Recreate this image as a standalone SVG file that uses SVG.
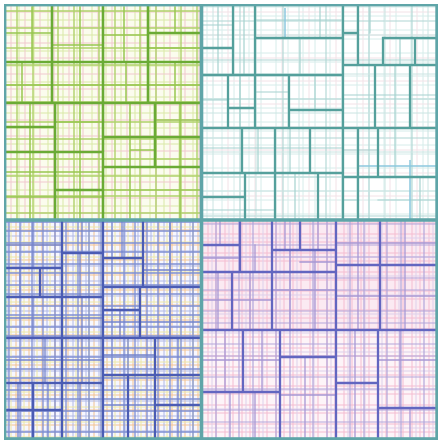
<svg xmlns="http://www.w3.org/2000/svg" width="441" height="444" viewBox="0 0 441 444">
<style>
.t{fill:none;stroke-linecap:square}
.tl2{stroke:#6aab36;stroke-width:2.6}
.tl3{stroke:#98c650;stroke-width:1.5}
.tr2{stroke:#55a09c;stroke-width:2.3}
.tr3{stroke:#a6d2cf;stroke-width:1.2}
.bl2{stroke:#4c5bb4;stroke-width:2.3}
.bl3{stroke:#7484cc;stroke-width:1.3}
.br2{stroke:#6266c0;stroke-width:2.3}
.br3{stroke:#a898d4;stroke-width:1.3}
.frame{stroke:#5ea5a8}
</style>
<defs>
<filter id="soft" x="0" y="0" width="1" height="1">
<feGaussianBlur stdDeviation="0.45"/>
</filter>
<pattern id="pTLf" width="29" height="31" patternUnits="userSpaceOnUse">
<path d="M5 0V31M19 0V31M0 4H29M0 20H29" stroke="#d9e8a6" stroke-width="1"/>
<path d="M11 0V31M25 0V31M0 12H29M0 27H29" stroke="#f0c8ce" stroke-width="1"/>
</pattern>
<pattern id="pTLm" width="41" height="37" patternUnits="userSpaceOnUse" x="3" y="2">
<path d="M14 0V37M30 0V37M0 9H41M0 26H41" stroke="#afd26a" stroke-width="1.4"/>
</pattern>
<pattern id="pTRf" width="27" height="23" patternUnits="userSpaceOnUse">
<path d="M6 0V23M18 0V23M0 7H27M0 16H27" stroke="#d6ecea" stroke-width="1"/>
<path d="M12 0V23M0 12H27" stroke="#f2e2e7" stroke-width="1"/>
</pattern>
<pattern id="pTRm" width="43" height="39" patternUnits="userSpaceOnUse" x="5" y="3">
<path d="M20 0V39M0 18H43" stroke="#afd6d3" stroke-width="1.1"/>
<path d="M36 0V39M0 32H43" stroke="#cae4e2" stroke-width="1"/>
</pattern>
<pattern id="pBLf" width="13" height="15" patternUnits="userSpaceOnUse">
<path d="M3 0V15M0 5H13" stroke="#f3c290" stroke-width="1"/>
<path d="M8 0V15M0 11H13" stroke="#b0b9e6" stroke-width="1"/>
<path d="M11 0V15M0 2H13" stroke="#ece8a6" stroke-width="1"/>
</pattern>
<pattern id="pBLm" width="23" height="21" patternUnits="userSpaceOnUse" x="2" y="4">
<path d="M7 0V21M18 0V21M0 8H23M0 17H23" stroke="#7f8fd2" stroke-width="1.3"/>
</pattern>
<pattern id="pBRf" width="17" height="19" patternUnits="userSpaceOnUse">
<path d="M4 0V19M12 0V19M0 6H17M0 14H17" stroke="#f4bcd0" stroke-width="1"/>
<path d="M8 0V19M0 10H17" stroke="#ddd0ea" stroke-width="1"/>
</pattern>
<pattern id="pBRm" width="37" height="33" patternUnits="userSpaceOnUse" x="4" y="2">
<path d="M13 0V33M27 0V33M0 12H37M0 24H37" stroke="#b3a6da" stroke-width="1.2"/>
</pattern>
</defs>
<rect width="441" height="444" fill="#ffffff"/>

<g filter="url(#soft)">
<g id="q-tl">
<rect x="6" y="6" width="196" height="214" fill="#fbfcee"/>
<rect x="6" y="6" width="196" height="214" fill="url(#pTLf)"/>
<rect x="6" y="6" width="196" height="214" fill="url(#pTLm)"/>
<path class="t tl3" d="M32 7V62M80 7V62M124 7V62M175 7V33M6 33H52M52 45H103M103 35H148M148 48H200M22 62V103M80 62V103M126 62V103M175 62V103M6 85H200M30 103V218M80 103V218M130 103V218M180 103V218M6 172H103M103 190H200M6 197H103M55 122H103M155 120H200M130 150H155"/>
<path class="t tl2" d="M6 103H200M52 7V103M103 7V218M148 7V103M6 62H200M148 33H200M55 103V218M155 103V167M6 152H103M103 137H200M103 167H200M6 127H55M55 190H103"/>
</g>

<g id="q-tr">
<rect x="202" y="6" width="236" height="214" fill="#ffffff"/>
<rect x="202" y="6" width="236" height="214" fill="url(#pTRf)"/>
<rect x="202" y="6" width="236" height="214" fill="url(#pTRm)"/>
<path class="t tr3" d="M218 7V75M203 25H233M244 7V75M255 20H343M300 38V75M320 7V38M203 100H228M240 75V128M255 92H289M315 75V110M370 7V33M400 38V65M343 95H437M395 65V128M203 148H343M258 128V173M290 128V173M203 210H275M295 173V219M343 150H378M395 128V177M378 200H437M420 177V219M343 200H358"/>
<path d="M285 8V38M410 160V219M358 166H437" fill="none" stroke="#8cc8de" stroke-width="1.5"/>
<path class="t tr2" d="M203 128H437M343 7V219M255 7V128M203 75H343M255 38H343M233 7V75M203 48H233M289 75V128M289 110H343M228 75V128M228 108H255M343 65H437M383 38V65M358 7V65M343 33H358M383 38H437M415 38V65M375 65V128M410 65V128M275 128V219M378 128V177M203 173H343M343 177H437M242 128V173M310 128V173M245 173V219M318 173V219M203 197H245M358 128V219"/>
</g>

<g id="q-bl">
<rect x="6" y="220" width="196" height="219" fill="#f7f7ff"/>
<rect x="6" y="220" width="196" height="219" fill="url(#pBLf)"/>
<rect x="6" y="220" width="196" height="219" fill="url(#pBLm)"/>
<path class="t bl3" d="M33 221V268M82 221V253M6 245H62M122 221V258M170 221V287M143 270H200M20 268V297M80 253V297M6 318H103M33 297V338M82 297V338M120 310V338M170 287V338M140 322H200M103 322H140M45 338V383M82 338V383M6 360H103M18 383V437M48 383V437M80 383V437M103 355H155M128 338V375M178 338V375M103 405H155M178 375V437M155 420H200"/>
<path class="t bl2" d="M103 221V437M6 338H200M62 221V338M6 268H62M6 297H103M40 268V297M62 253H103M103 287H200M143 221V287M103 258H143M140 287V338M103 310H140M62 338V437M6 383H103M33 383V437M155 338V437M103 375H200M128 375V437M6 410H62M155 405H200"/>
</g>

<g id="q-br">
<rect x="202" y="220" width="236" height="219" fill="#fdf4f8"/>
<rect x="202" y="220" width="236" height="110" fill="#fbeaf2"/>
<rect x="202" y="220" width="236" height="219" fill="url(#pBRf)"/>
<rect x="202" y="220" width="236" height="219" fill="url(#pBRm)"/>
<path class="t br3" d="M220 221V245M255 245V272M203 258H240M285 221V250M318 221V250M300 262H336M218 272V330M250 272V330M203 300H232M232 300H272M290 250V330M315 250V330M272 290H336M358 221V265M405 221V265M336 243H437M358 265V330M405 265V330M336 296H437M225 330V392M262 330V392M203 360H243M243 360H280M230 392V437M255 392V437M305 357V437M280 395H336M355 330V437M400 330V408M378 360H437M410 408V437"/>
<path class="t br2" d="M336 221V437M203 330H437M272 221V330M203 272H336M240 221V272M232 272V330M300 221V250M203 245H240M272 250H336M336 265H437M380 221V330M203 392H280M280 330V437M243 330V392M280 357H336M378 330V437M336 383H378M378 408H437"/>
</g>

<g id="frame">
<path class="t frame" d="M201.5 6V438M6 220H437" stroke-width="3.6"/>
<rect class="frame" x="4.2" y="4.2" width="433.3" height="435.2" fill="none" stroke-width="4.4"/>
</g>
</g>
</svg>
